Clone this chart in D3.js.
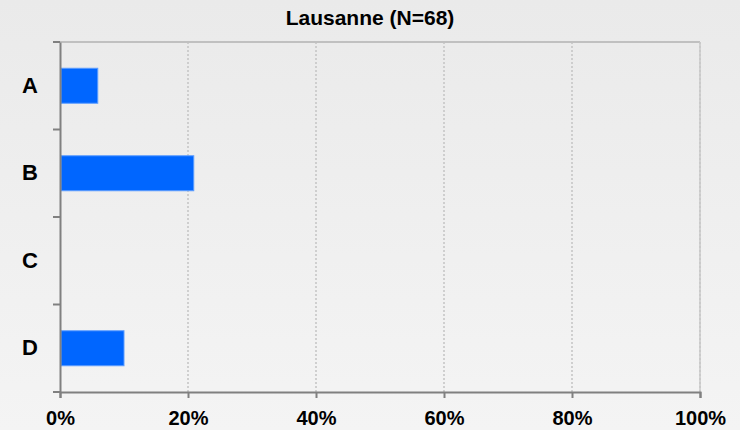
<!DOCTYPE html>
<html>
<head>
<meta charset="utf-8">
<script src="https://cdn.jsdelivr.net/npm/d3@7"></script>
<style>
  html, body { margin: 0; padding: 0; }
  body { width: 740px; height: 430px; background: linear-gradient(#eaeaea, #f4f4f4); overflow: hidden; }
  svg { display: block; font-family: "Liberation Sans", Arial, sans-serif; }
</style>
</head>
<body>
<div id="chart"></div>
<script>
// data
var categories = ["A", "B", "C", "D"];
var shares = [0.059, 0.209, 0, 0.10];
var xTicks = [0, 0.2, 0.4, 0.6, 0.8, 1];
var title = "Lausanne (N=68)";

var margin = {top: 42, right: 40, bottom: 38, left: 60},
    width = 740 - margin.left - margin.right,
    height = 430 - margin.top - margin.bottom;

var svg = d3.select("#chart")
  .append("svg")
    .attr("width", width + margin.left + margin.right)
    .attr("height", height + margin.top + margin.bottom)
  .append("g")
    .attr("transform", "translate(" + margin.left + "," + margin.top + ")");

var x = d3.scaleLinear().domain([0, 1]).range([0, width]);
var y = d3.scaleBand().domain(categories).range([0, height]).paddingInner(0).paddingOuter(0);
var barPad = 0.3; // fraction of band left empty above & below the bar

// dotted gridlines
svg.selectAll(".grid")
  .data(xTicks.filter(function(d) { return d > 0; }))
  .enter().append("line")
    .attr("x1", function(d) { return x(d); })
    .attr("x2", function(d) { return x(d); })
    .attr("y1", 0)
    .attr("y2", height)
    .attr("stroke", "#c4c4c4")
    .attr("stroke-width", 1.5)
    .attr("stroke-dasharray", "2,2");

// top and right frame
svg.append("line")
  .attr("x1", 0).attr("x2", width)
  .attr("y1", 0).attr("y2", 0)
  .attr("stroke", "#c0c0c0").attr("stroke-width", 2);
svg.append("line")
  .attr("x1", width).attr("x2", width)
  .attr("y1", 0).attr("y2", height)
  .attr("stroke", "#c8c8c8").attr("stroke-width", 1.5);

// bars
svg.selectAll(".bar")
  .data(categories)
  .enter().append("rect")
    .attr("x", x(0) + 1)
    .attr("y", function(d) { return y(d) + y.bandwidth() * barPad; })
    .attr("width", function(d, i) { return Math.max(0, x(shares[i]) - 1); })
    .attr("height", y.bandwidth() * (1 - 2 * barPad))
    .attr("fill", "#0066ff")
    .attr("stroke", function(d, i) { return shares[i] > 0 ? "#5c9dff" : "none"; })
    .attr("stroke-width", 1);

// X axis
var xAxis = svg.append("g")
  .attr("transform", "translate(0," + height + ")")
  .call(d3.axisBottom(x).tickValues(xTicks).tickFormat(d3.format(".0%")).tickSize(6).tickPadding(13));
xAxis.select(".domain").attr("stroke", "#808080").attr("stroke-width", 2);
xAxis.selectAll(".tick line").attr("stroke", "#808080").attr("stroke-width", 2);
xAxis.selectAll(".tick text")
  .attr("fill", "#000")
  .style("font-size", "20px")
  .style("font-weight", "bold");

// Y axis: labels at band centres, ticks at band edges
var yAxis = svg.append("g")
  .call(d3.axisLeft(y).tickSize(0).tickPadding(22));
yAxis.select(".domain").attr("stroke", "#808080").attr("stroke-width", 2);
yAxis.selectAll(".tick text")
  .attr("fill", "#000")
  .style("font-size", "22px")
  .style("font-weight", "bold");

var edges = categories.map(function(d) { return y(d); }).concat([height]);
svg.selectAll(".ytick")
  .data(edges)
  .enter().append("line")
    .attr("x1", -7).attr("x2", 0)
    .attr("y1", function(d) { return d; })
    .attr("y2", function(d) { return d; })
    .attr("stroke", "#808080")
    .attr("stroke-width", 2);

// title, centred on the page
svg.append("text")
  .attr("x", 740 / 2 - margin.left)
  .attr("y", -17)
  .attr("text-anchor", "middle")
  .style("font-size", "21px")
  .style("font-weight", "bold")
  .text(title);
</script>
</body>
</html>
